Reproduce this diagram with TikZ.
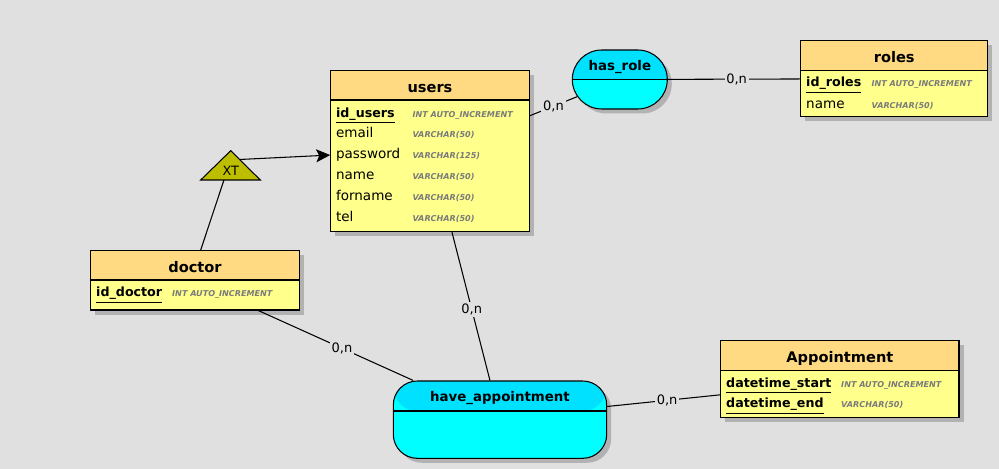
\documentclass[tikz,border=0pt]{standalone}
\usepackage{fontspec}
\setmainfont{DejaVu Sans}
\usetikzlibrary{fit,calc,shadows,shapes.misc,arrows.meta}

\definecolor{bgcol}{HTML}{E0E0E0}
\definecolor{tblhead}{HTML}{FFDA82}
\definecolor{tblbody}{HTML}{FFFF8C}
\definecolor{relhead}{HTML}{00E1FF}
\definecolor{relbody}{HTML}{00FFFF}
\definecolor{isacol}{HTML}{BEBE00}
\definecolor{typegray}{HTML}{7A7A7A}
\definecolor{shadowgray}{HTML}{B2B2B2}

\begin{document}
\begin{tikzpicture}[x=0.02cm, y=-0.02cm, line width=0.6pt,
  shadowed/.style={drop shadow={shadow xshift=0.09cm, shadow yshift=-0.09cm, fill=shadowgray, opacity=1}},
  tbl/.style={draw, fill=tblbody, inner sep=0, shadowed},
  tblhdr/.style={draw, fill=tblhead, inner sep=0},
  tbltitle/.style={anchor=base, inner sep=0, font=\bfseries\fontsize{8.3}{10}\selectfont},
  attr/.style={anchor=base west, inner sep=0, font=\fontsize{7.7}{9}\selectfont},
  pkey/.style={anchor=base west, inner sep=0, font=\bfseries\fontsize{7.2}{9}\selectfont},
  sqltype/.style={anchor=base west, inner sep=0, text=typegray, font=\bfseries\itshape\fontsize{4.6}{6}\selectfont},
  rel/.style={draw, fill=relbody, inner sep=0, shadowed,
    path picture={\fill[relhead] (path picture bounding box.north west) rectangle ([yshift=-#1]path picture bounding box.north east);
      \draw ([yshift=-#1]path picture bounding box.north west) -- ([yshift=-#1]path picture bounding box.north east);}},
  relname/.style={anchor=base, inner sep=0, font=\bfseries\fontsize{7.6}{9}\selectfont},
  card/.style={fill=bgcol, inner sep=1pt, font=\fontsize{7.4}{9}\selectfont},
]
\path[use as bounding box, fill=bgcol] (0,0) rectangle (999,469);

% users
\node[tbl, fit={(330.7,70.7) (529.3,231.7)}] (users) {};
\node[tblhdr, fit={(330.7,70.7) (529.3,100)}] (users-hd) {};
\node[tbltitle] (users-tt) at ($(users-hd.south)+(0,-8.4)$) {users};
\node[pkey] (uid) at (335.5,117.3) {\underline{id\_users}};
\node[sqltype] (uid-t) at (412,117.3) {INT AUTO\_INCREMENT};
\node[attr] (umail) at (335.5,138) {email};
\node[sqltype] (umail-t) at (412,138) {VARCHAR(50)};
\node[attr] (upass) at (335.5,158.8) {password};
\node[sqltype] (upass-t) at (412,158.8) {VARCHAR(125)};
\node[attr] (uname) at (335.5,179.8) {name};
\node[sqltype] (uname-t) at (412,179.8) {VARCHAR(50)};
\node[attr] (ufname) at (335.5,200.7) {forname};
\node[sqltype] (ufname-t) at (412,200.7) {VARCHAR(50)};
\node[attr] (utel) at (335.5,221.6) {tel};
\node[sqltype] (utel-t) at (412,221.6) {VARCHAR(50)};

% roles
\node[tbl, fit={(800.7,40.7) (987.7,116.7)}] (roles) {};
\node[tblhdr, fit={(800.7,40.7) (987.7,70.7)}] (roles-hd) {};
\node[tbltitle] (roles-tt) at ($(roles-hd.south)+(0,-9)$) {roles};
\node[pkey] (rid) at (805.7,86.7) {\underline{id\_roles}};
\node[sqltype] (rid-t) at (871,86.7) {INT AUTO\_INCREMENT};
\node[attr] (rname) at (805.7,108.3) {name};
\node[sqltype] (rname-t) at (871,108.3) {VARCHAR(50)};

% doctor
\node[tbl, fit={(90.7,250.7) (299.3,310)}] (doctor) {};
\node[tblhdr, fit={(90.7,250.7) (299.3,280)}] (doctor-hd) {};
\node[tbltitle] (doctor-tt) at ($(doctor-hd.south)+(0,-8.4)$) {doctor};
\node[pkey] (did) at (95.7,296.7) {\underline{id\_doctor}};
\node[sqltype] (did-t) at (171.7,296.7) {INT AUTO\_INCREMENT};

% Appointment
\node[tbl, fit={(720.7,340.7) (959,417.3)}] (appt) {};
\node[tblhdr, fit={(720.7,340.7) (959,370.7)}] (appt-hd) {};
\node[tbltitle] (appt-tt) at ($(appt-hd.south)+(0,-9)$) {Appointment};
\node[pkey] (astart) at (725.7,387.3) {\underline{datetime\_start}};
\node[sqltype] (astart-t) at (840.7,387.3) {INT AUTO\_INCREMENT};
\node[pkey] (aend) at (725.7,407.5) {\underline{datetime\_end}};
\node[sqltype] (aend-t) at (840.7,407.5) {VARCHAR(50)};

% associations
\node[rel=0.59cm, rounded rectangle, minimum width=1.9cm, minimum height=1.18cm] (hasrole) at (619.8,79.5) {};
\node[relname] (hasrole-lb) at ($(hasrole.north)+(0,21)$) {has\_role};
\node[rel=0.6cm, rounded corners=0.48cm, fit={(393.3,381) (606.7,458.3)}] (haveapp) {};
\node[relname] (haveapp-lb) at ($(haveapp.north)+(0,21)$) {have\_appointment};

% inheritance
\coordinate (xt-top) at (230.7,150.7);
\coordinate (xt-l) at (200.7,180);
\coordinate (xt-r) at (260.3,180);
\filldraw[fill=isacol] (xt-top) -- (xt-l) -- (xt-r) -- cycle;
\node[font=\fontsize{7.3}{9}\selectfont] (xt) at (230.7,170.5) {XT};
\draw[-{Stealth[length=0.28cm,width=0.26cm,inset=0.06cm]}] ($(xt-top)!.3!(xt-r)$) -- (users.west |- upass);
\draw ($(doctor.north west)!.527!(doctor.north east)$) -- ($(xt-l)!.39!(xt-r)$);

% links
\draw (users.east |- uid) -- (hasrole) node[card, midway] {0,n};
\draw (hasrole) -- (roles) node[card, pos=.52] {0,n};
\draw ($(users.south west)!.61!(users.south east)$) -- (haveapp) node[card, pos=.52] {0,n};
\draw ($(doctor.south west)!.802!(doctor.south east)$) -- (haveapp) node[card, pos=.54] {0,n};
\draw ($(haveapp.north east)+(0,26)$) -- ($(appt.south west)+(0,-23)$) node[card, pos=.53] {0,n};
\end{tikzpicture}
\end{document}
